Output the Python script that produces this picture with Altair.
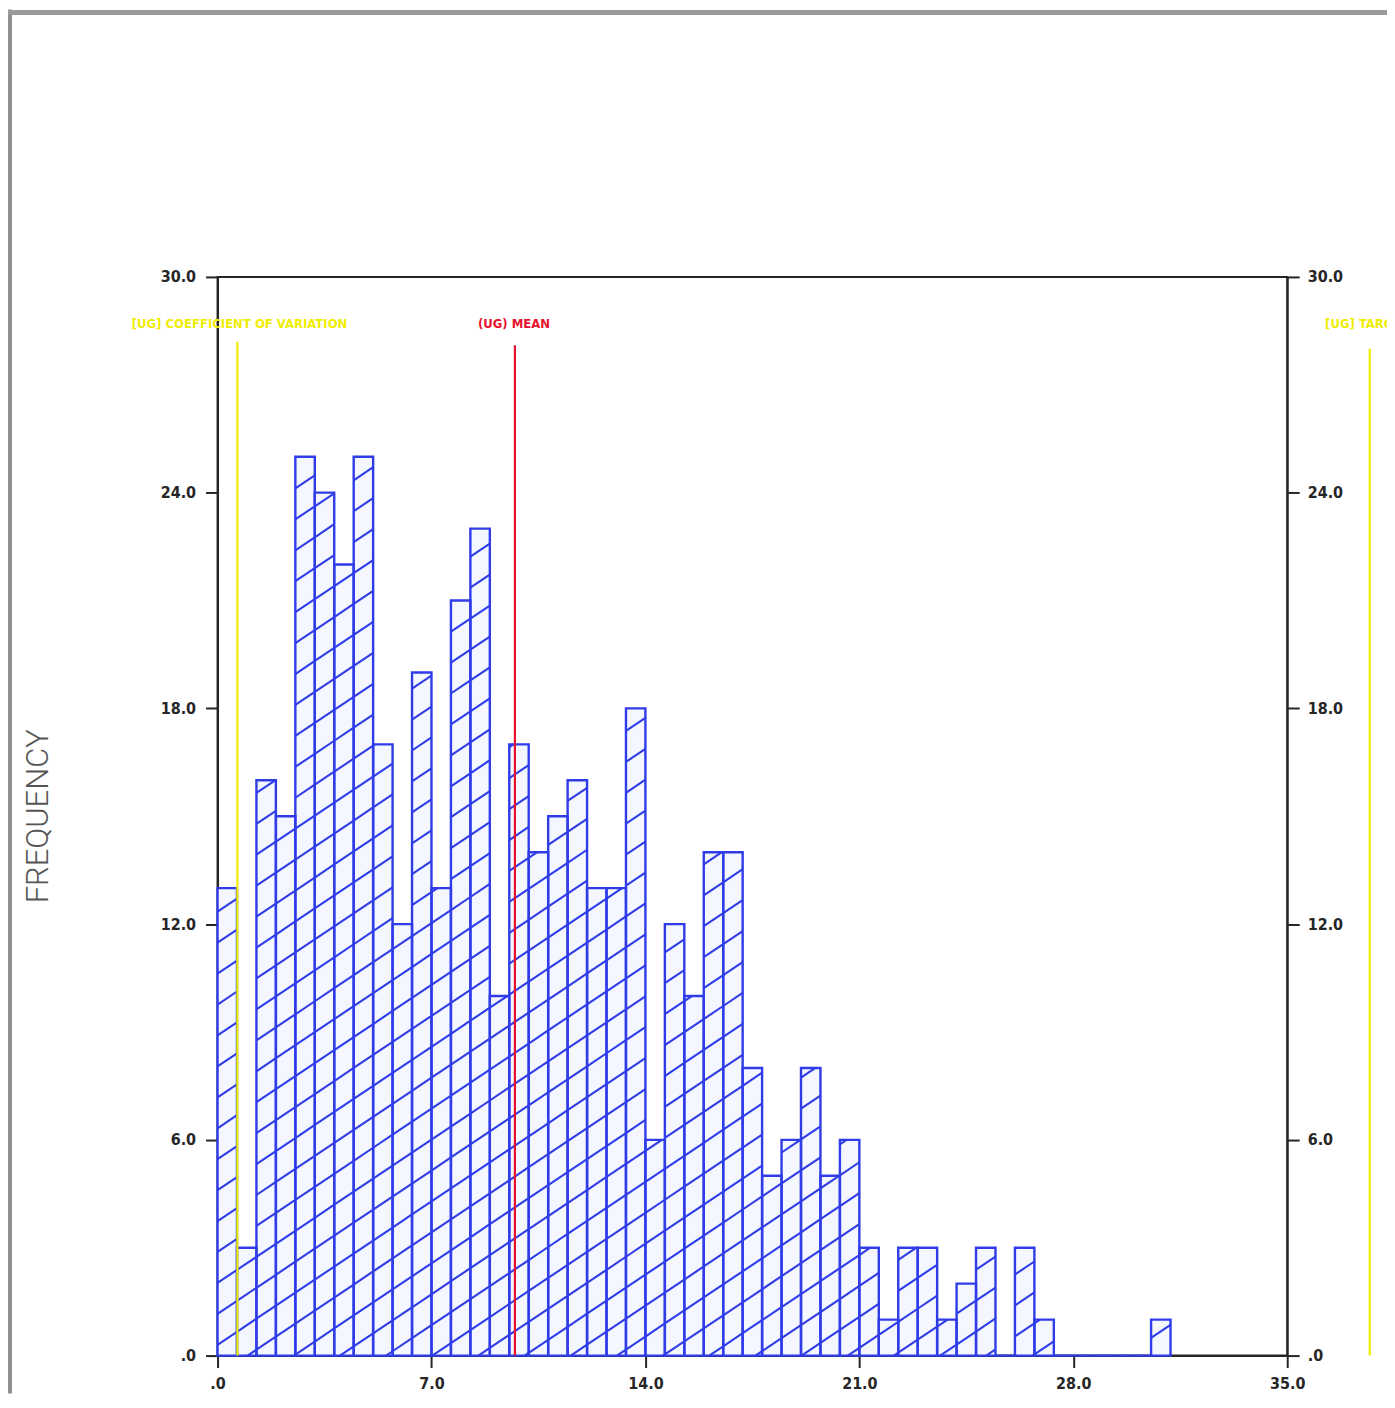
import math
import altair as alt
import pandas as pd

# ---------------- data ----------------
counts = [13, 3, 16, 15, 25, 24, 22, 25, 17, 12, 19, 13, 21, 23, 10, 17, 14, 15,
          16, 13, 13, 18, 6, 12, 10, 14, 14, 8, 5, 6, 8, 5, 6, 3, 1, 3, 3, 1, 2,
          3, 0, 3, 1, 0, 0, 0, 0, 0, 1]
bin_width = 35 / 55
x_ticks = [0, 7, 14, 21, 28, 35]
y_ticks = [0, 6, 12, 18, 24, 30]

ref_names = ["[UG] COEFFICIENT OF VARIATION", "(UG) MEAN", "[UG] TARGET"]
ref_values = [0.65, 9.73, 37.7]
ref_colors = ["#efed00", "#e8112d", "#efed00"]
ref_top = [28.2, 28.1, 28.0]
label_x = [0.72, 9.70, 36.24]
label_align = ["center", "center", "left"]
label_y = 28.7

# ---------------- layout ----------------
W, H = 1072, 1081
BLUE = "#2f3ce8"
AXIS = "#262626"

bars = pd.DataFrame({
    "x0": [i * bin_width for i in range(len(counts))],
    "x1": [(i + 1) * bin_width for i in range(len(counts))],
    "count": counts,
})

# hatch lines derived from the bars (global diagonal pattern clipped to each bar)
kx, ky = W / 35, H / 30
slope_px, spacing_px = 0.67, 31.0
m = slope_px * kx / ky
dc = spacing_px / ky
segs = []
for a, b, h in zip(bars["x0"], bars["x1"], bars["count"]):
    if h <= 0:
        continue
    kmin = math.floor((0 - m * b) / dc) - 1
    kmax = math.ceil((h - m * a) / dc) + 1
    for k in range(kmin, kmax + 1):
        c = k * dc + 0.3
        xlo = max(a, (0 - c) / m)
        xhi = min(b, (h - c) / m)
        if xhi - xlo > 1e-4:
            segs.append({"hx": xlo, "hy": m * xlo + c, "hx2": xhi, "hy2": m * xhi + c})
hatch = pd.DataFrame(segs)

refs = pd.DataFrame({"name": ref_names, "value": ref_values, "color": ref_colors,
                     "top": ref_top, "lx": label_x, "align": label_align,
                     "ly": [label_y] * 3})

x_scale = alt.Scale(domain=[0, 35], nice=False, zero=False)
y_scale = alt.Scale(domain=[0, 30], nice=False, zero=False)
lab = "datum.value == 0 ? '.0' : format(datum.value, '.1f')"
FONT = "DejaVu Sans Condensed"

x_axis = alt.Axis(values=x_ticks, labelExpr=lab, title=None, grid=False, orient="bottom",
                  tickSize=12, tickWidth=2, tickColor=AXIS, domainColor=AXIS,
                  domainWidth=2, labelFont=FONT, labelFontSize=16, labelFontWeight="bold",
                  labelColor=AXIS, labelPadding=8, labelFlush=False)
left_axis = alt.Axis(values=y_ticks, labelExpr=lab, grid=False, orient="left",
                     tickSize=12, tickWidth=2, tickColor=AXIS, domainColor=AXIS,
                     domainWidth=2, labelFont=FONT, labelFontSize=16, labelFontWeight="bold",
                     labelColor=AXIS, labelPadding=10, labelFlush=False,
                     title="FREQUENCY", titleFont="Roboto", titleFontWeight=300,
                     titleFontSize=31, titleColor="#555555", titleAngle=-90,
                     titleX=-170, titleY=540, titleAlign="center",
                     titleBaseline="alphabetic")
right_axis = alt.Axis(values=y_ticks, labelExpr=lab, grid=False, orient="right",
                      tickSize=12, tickWidth=2, tickColor=AXIS, domainColor=AXIS,
                      domainWidth=2, labelFont=FONT, labelFontSize=16, labelFontWeight="bold",
                      labelColor=AXIS, labelPadding=8, labelFlush=False, title=None)

def X(field):
    return alt.X(field, scale=x_scale, axis=x_axis)

bar_fill = alt.Chart(bars).mark_rect(fill="#f4f7ff", stroke=None).encode(
    x=X("x0:Q"),
    x2="x1:Q",
    y=alt.Y("count:Q", scale=y_scale, axis=left_axis),
    y2=alt.datum(0),
)

hatch_layer = alt.Chart(hatch).mark_rule(color=BLUE, strokeWidth=2.1).encode(
    x=X("hx:Q"),
    x2="hx2:Q",
    y=alt.Y("hy:Q", scale=y_scale, axis=right_axis),
    y2="hy2:Q",
)

bar_outline = alt.Chart(bars).mark_rect(fillOpacity=0, stroke=BLUE, strokeWidth=2.4).encode(
    x=X("x0:Q"),
    x2="x1:Q",
    y=alt.Y("count:Q", scale=y_scale, axis=None),
    y2=alt.datum(0),
)

ref_rules = alt.Chart(refs).mark_rule(strokeWidth=2.2).encode(
    x=X("value:Q"),
    y=alt.Y("top:Q", scale=y_scale, axis=None),
    y2=alt.datum(0),
    color=alt.Color("color:N", scale=None),
)

def ref_text(align):
    return alt.Chart(refs).transform_filter(
        alt.datum.align == align
    ).mark_text(font=FONT, fontSize=13, fontWeight="bold", align=align,
                baseline="middle").encode(
        x=X("lx:Q"),
        y=alt.Y("ly:Q", scale=y_scale, axis=None),
        text="name:N",
        color=alt.Color("color:N", scale=None),
    )

one = pd.DataFrame({"a": [0]})
scan_left = alt.Chart(one).mark_rule(color="#8f8f8f", strokeWidth=4).encode(
    x=alt.value(-208), y=alt.value(-268), y2=alt.value(1119))
scan_top = alt.Chart(one).mark_rule(color="#9a9a9a", strokeWidth=5).encode(
    x=alt.value(-210), x2=alt.value(1177), y=alt.value(-265))

chart = alt.layer(
    bar_fill, hatch_layer, bar_outline, ref_rules, ref_text("center"), ref_text("left"),
    scan_left, scan_top,
).resolve_axis(y="independent").properties(
    width=W, height=H,
    autosize=alt.AutoSizeParams(type="none"),
    padding={"left": 210, "top": 268, "right": 100, "bottom": 40},
).configure(background="white").configure_view(stroke=AXIS, strokeWidth=2)

chart.save("out.html", embed_options={"renderer": "svg", "actions": False})
